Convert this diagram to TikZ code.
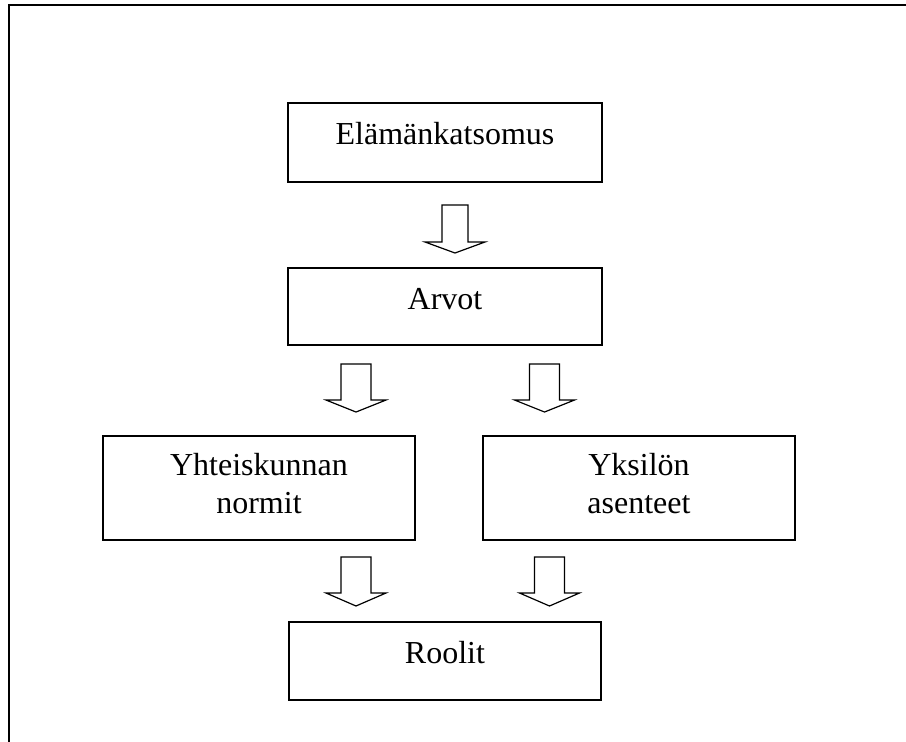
\documentclass[tikz,border=0pt]{standalone}
\usepackage{fontspec}
\setmainfont{Liberation Serif}
\newcommand{\blkarrow}[4]{% coordinate, stem half width, shoulder depth, tip depth
  \draw[blockarrow] (#1) ++(-#2,0) -- ++(2*#2,0) -- ++(0,#3) -- ++(30-#2,0)
    -- ($(#1)+(0,#4)$) -- ($(#1)+(-30,#3)$) -- ($(#1)+(-#2,#3)$) -- cycle;}
\usetikzlibrary{calc}
\begin{document}
\begin{tikzpicture}[x=1pt,y=-1pt,
  box/.style={draw, line width=1.5pt, inner sep=0pt},
  lbl/.style={anchor=base, font=\fontsize{32}{38}\selectfont, inner sep=0pt, align=center},
  blockarrow/.style={draw, line width=1.2pt, line join=miter, fill=white}]
\useasboundingbox (0,0) rectangle (906,742);
\draw[line width=2pt] (906,5) -- (9,5) -- (9,742);

\node[box, minimum width=314pt, minimum height=79pt] (E) at (445,142.5) {};
\node[box, minimum width=314pt, minimum height=77pt] (A) at (445,306.5) {};
\node[box, minimum width=312pt, minimum height=104pt] (Y) at (259,488) {};
\node[box, minimum width=312pt, minimum height=104pt] (K) at (639,488) {};
\node[box, minimum width=312pt, minimum height=78pt] (R) at (445,661) {};

\node[lbl] (Et) at (445,144) {Elämänkatsomus};
\node[lbl] (At) at (445,309) {Arvot};
\node[lbl] (Yt) at (259,475) {Yhteiskunnan};
\node[lbl] (Yt2) at (259,513) {normit};
\node[lbl] (Kt) at (639,475) {Yksilön};
\node[lbl] (Kt2) at (639,513) {asenteet};
\node[lbl] (Rt) at (445,663) {Roolit};

\coordinate (a1) at (455,205);
\coordinate (a2) at (356,364);
\coordinate (a3) at (544.5,364);
\coordinate (a4) at (356,557);
\coordinate (a5) at (549.5,557);

\blkarrow{a1}{13}{37}{48}
\blkarrow{a2}{15}{36}{48}
\blkarrow{a3}{15}{36}{48}
\blkarrow{a4}{15}{36}{49}
\blkarrow{a5}{15}{36}{49}
\end{tikzpicture}
\end{document}
